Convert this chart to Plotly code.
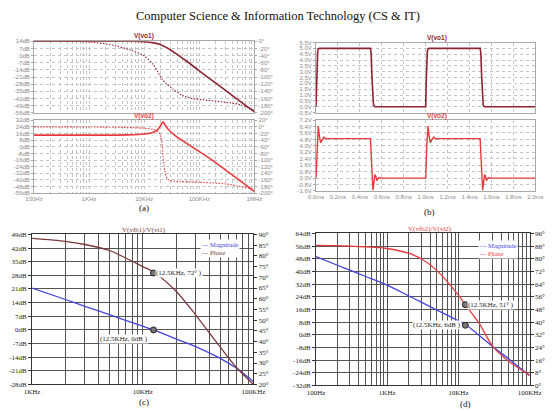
import numpy as np
import plotly.graph_objects as go

# ------------------------- DATA -------------------------
# (a) frequency responses, 100Hz..1MHz
fa_vo1_mag = [100, 1e3, 5e3, 1e4, 1.5e4, 1.9e4, 2.5e4, 3e4, 4e4, 6e4, 1e5, 2e5, 5e5, 1e6]
vo1_mag    = [14, 14, 14, 13.6, 12.4, 11, 8, 5.5, 1, -5.8, -15, -27, -43, -55]
fa_vo1_ph  = [100, 1e3, 2.9e3, 5.7e3, 1e4, 1.47e4, 1.8e4, 2.1e4, 2.5e4, 3.3e4, 4.9e4, 7.3e4, 1.45e5, 2.8e5, 5.5e5, 1e6]
vo1_ph     = [0, -2, -12, -25, -41, -66, -88, -106, -118, -133, -151, -160, -165, -170, -177, -194]
fa_vo2_mag = [100, 1e3, 5e3, 1e4, 1.47e4, 1.78e4, 2e4, 2.2e4, 2.4e4, 2.7e4, 3.7e4, 1.43e5, 1e6]
vo2_mag    = [14, 14, 14.3, 15.3, 17.5, 21, 26, 30, 26, 21.5, 13, -12.6, -54]
fa_vo2_ph  = [100, 1e3, 5e3, 1e4, 1.5e4, 1.8e4, 2e4, 2.1e4, 2.2e4, 2.35e4, 2.5e4, 2.8e4, 3.5e4, 1e5, 3e5, 1e6]
vo2_ph     = [0, -0.5, -2, -4, -8, -15, -30, -50, -90, -130, -150, -160, -164, -167, -172, -188]

# (b) transient responses, 0..2ms
t_vo1 = [0, 0.005, 0.01, 0.015, 0.02, 0.03, 0.497, 0.503, 0.51, 0.517, 0.524, 0.535, 1.0, 1.005, 1.01, 1.015, 1.02, 1.03, 1.497, 1.503, 1.51, 1.517, 1.524, 1.535, 2.0]
v_vo1 = [0, 2.2, 4.0, 4.7, 4.95, 5.0, 5.0, 4.5, 2.6, 0.8, 0.15, 0, 0, 2.2, 4.0, 4.7, 4.95, 5.0, 5.0, 4.5, 2.6, 0.8, 0.15, 0, 0]
t_vo2 = [0, 0.01, 0.021, 0.031, 0.042, 0.058, 0.073, 0.09, 0.11,
         0.496, 0.507, 0.519, 0.529, 0.537, 0.546, 0.554, 0.563, 0.572, 0.6,
         1.0, 1.01, 1.021, 1.031, 1.042, 1.058, 1.073, 1.09, 1.11,
         1.496, 1.507, 1.519, 1.529, 1.537, 1.546, 1.554, 1.563, 1.572, 1.6, 2.0]
v_vo2 = [0, 4.0, 6.45, 5.2, 4.4, 4.8, 5.1, 4.85, 4.9,
         4.9, 1.0, -1.5, -0.4, 0.45, 0.2, -0.3, -0.1, 0.05, 0,
         0, 4.0, 6.45, 5.2, 4.4, 4.8, 5.1, 4.85, 4.9,
         4.9, 1.0, -1.5, -0.4, 0.45, 0.2, -0.3, -0.1, 0.05, 0, 0]

# (c) V(vfb1)/V(vi1)
fc     = [1e3, 2e3, 3e3, 5e3, 7e3, 1e4, 1.25e4, 2e4, 3e4, 5e4, 7e4, 1e5]
mag_c  = [21.4, 15.6, 12.1, 7.8, 4.9, 1.9, 0, -4.6, -8.6, -14.6, -19.6, -26.5]
ph_c   = [88.2, 86.8, 85.3, 82.5, 79, 75, 72.5, 63.5, 52.5, 37.5, 28, 20]
# (d) V(vfb2)/V(vi2)
fd     = [100, 200, 300, 500, 1e3, 2e3, 3e3, 5e3, 1e4, 1.25e4, 2e4, 3e4, 5e4, 1e5]
mag_d  = [49.3, 43.9, 40.8, 36.8, 31.4, 24.6, 20.6, 15.6, 8.8, 6.6, -0.8, -7.3, -15, -25.9]
ph_d   = [88.5, 88.3, 88, 87.6, 86.5, 83.5, 80, 72.5, 57, 51, 38.5, 25, 15.5, 6.5]

# marker points
mark_c = dict(f=12500, mag=0, ph=72)
mark_d = dict(f=12500, mag=6, ph=51)

# tick labels
a_top_left  = list(range(14, -57, -7))
a_top_right = list(range(0, -201, -20))
a_bot_left  = list(range(32, -57, -8))
a_bot_right = list(range(20, -201, -20))
a_x_major   = [100, 1e3, 1e4, 1e5, 1e6]
a_x_labels  = ["100Hz", "1KHz", "10KHz", "100KHz", "1MHz"]
b_top_left  = [round(-0.5 + 0.5 * i, 1) for i in range(13)]
b_bot_left  = [round(-1.6 + 0.8 * i, 1) for i in range(12)]
b_x         = [round(0.2 * i, 1) for i in range(11)]
c_left      = list(range(-28, 50, 7))
c_right     = list(range(20, 91, 5))
d_left      = list(range(-32, 65, 8))
d_right     = list(range(0, 97, 8))

# ------------------------- FIGURE -------------------------
W, H = 558, 411
def xd(l, r): return [l / W, r / W]
def yd(t, b): return [1 - b / H, 1 - t / H]

def logticks(lo, hi):
    vals = []
    for e in range(lo, hi):
        for m in range(1, 10):
            vals.append(m * 10 ** e)
    vals.append(10 ** hi)
    return vals

DR = '#8e2430'
RD = '#e83a3e'
BL = '#4545e0'
BR = '#7d3a3c'
GRID_LT = '#c4c4c4'
LTF = dict(family='Liberation Sans, Arial', size=6, color='#8a8a8a')
SRF = dict(family='Liberation Serif, Times New Roman', size=7, color='#222')
DOT = '1.5px,1.5px'

fig = go.Figure()
def line(x, y, xa, ya, color, dash='solid', width=1.5, shape='spline'):
    fig.add_trace(go.Scatter(x=x, y=y, xaxis=xa, yaxis=ya, mode='lines', showlegend=False,
                             line=dict(color=color, dash=dash, width=width, shape=shape, smoothing=0.8),
                             hoverinfo='skip'))

line(fa_vo1_mag, vo1_mag, 'x', 'y', DR, width=1.6)
line(fa_vo1_ph, vo1_ph, 'x', 'y2', DR, dash=DOT, width=1.1)
line(fa_vo2_mag, vo2_mag, 'x2', 'y3', RD, width=1.6)
line(fa_vo2_ph, vo2_ph, 'x2', 'y4', RD, dash=DOT, width=1.1)
line(t_vo1, v_vo1, 'x3', 'y5', DR, width=1.6, shape='linear')
line(t_vo2, v_vo2, 'x4', 'y6', RD, width=1.4, shape='linear')
line(fc, mag_c, 'x5', 'y7', BL, width=1.3)
line(fc, ph_c, 'x5', 'y8', BR, width=1.3)
line(fd, mag_d, 'x6', 'y9', BL, width=1.3)
line(fd, ph_d, 'x6', 'y10', RD, width=1.3)

mk = dict(size=6, color='#777', line=dict(color='#222', width=1))
fig.add_trace(go.Scatter(x=[mark_c['f']], y=[mark_c['mag']], xaxis='x5', yaxis='y7', mode='markers', marker=mk, showlegend=False))
fig.add_trace(go.Scatter(x=[mark_c['f']], y=[mark_c['ph']], xaxis='x5', yaxis='y8', mode='markers', marker=mk, showlegend=False))
fig.add_trace(go.Scatter(x=[mark_d['f']], y=[mark_d['mag']], xaxis='x6', yaxis='y9', mode='markers', marker=mk, showlegend=False))
fig.add_trace(go.Scatter(x=[mark_d['f']], y=[mark_d['ph']], xaxis='x6', yaxis='y10', mode='markers', marker=mk, showlegend=False))

def lt_x(dom, anchor, typ, rng, tv, tt, labels=True):
    return dict(domain=dom, anchor=anchor, type=typ, range=rng, tickvals=tv, ticktext=tt,
                showticklabels=labels, showgrid=True, gridcolor=GRID_LT, griddash='dot', gridwidth=1,
                showline=True, mirror=True, linecolor='#a8a8a8', linewidth=1, ticks='',
                tickfont=LTF, zeroline=False, fixedrange=True)

def lt_y(dom, anchor, rng, tv, tt):
    return dict(domain=dom, anchor=anchor, range=rng, tickvals=tv, ticktext=tt,
                showgrid=True, gridcolor=GRID_LT, griddash='dot', gridwidth=1,
                showline=True, mirror=True, linecolor='#a8a8a8', linewidth=1,
                ticks='outside', ticklen=2, tickcolor='#a8a8a8', tickfont=LTF, zeroline=False)

def lt_yr(over, anchor, rng, tv, tt):
    return dict(overlaying=over, side='right', anchor=anchor, range=rng, tickvals=tv, ticktext=tt,
                showgrid=False, showline=False, ticks='outside', ticklen=2, tickcolor='#a8a8a8',
                tickfont=LTF, zeroline=False)

def sr_x(dom, anchor, rng, tv, tt):
    return dict(domain=dom, anchor=anchor, type='log', range=rng, tickvals=tv, ticktext=tt,
                showgrid=True, gridcolor='#555', gridwidth=1.4, showline=True, mirror=True,
                linecolor='#333', linewidth=1, ticks='', tickfont=SRF, zeroline=False)

def sr_y(dom, anchor, rng, tv, tt):
    return dict(domain=dom, anchor=anchor, range=rng, tickvals=tv, ticktext=tt,
                showgrid=True, gridcolor='#555', gridwidth=1.4, showline=True, mirror=True,
                linecolor='#333', linewidth=1, ticks='outside', ticklen=3, tickcolor='#333',
                tickfont=SRF, zeroline=False)

def sr_yr(over, anchor, rng, tv, tt):
    return dict(overlaying=over, side='right', anchor=anchor, range=rng, tickvals=tv, ticktext=tt,
                showgrid=False, showline=False, ticks='outside', ticklen=3, tickcolor='#333',
                tickfont=SRF, zeroline=False)

a_tv = logticks(2, 6)
a_tt = [a_x_labels[a_x_major.index(v)] if v in a_x_major else '' for v in a_tv]
c_tv = logticks(3, 5)
c_tt = ['1KHz' if v == 1e3 else '10KHz' if v == 1e4 else '100KHz' if v == 1e5 else '' for v in c_tv]
d_tv = logticks(2, 5)
d_tt = ['100Hz' if v == 100 else '1KHz' if v == 1e3 else '10KHz' if v == 1e4 else '100KHz' if v == 1e5 else '' for v in d_tv]

A_X = xd(26, 255)
B_X = xd(319, 547)
layout = dict(
    width=W, height=H, margin=dict(l=0, r=0, t=0, b=0),
    paper_bgcolor='white', plot_bgcolor='white', showlegend=False,
    xaxis=lt_x(A_X, 'y', 'log', [2, 6], a_tv, a_tt, labels=False),
    yaxis=lt_y(yd(38, 111), 'x', [-56, 14], a_top_left, [f'{v}dB' for v in a_top_left]),
    yaxis2=lt_yr('y', 'x', [-200, 0], a_top_right, [f'{v}°' for v in a_top_right]),
    xaxis2=lt_x(A_X, 'y3', 'log', [2, 6], a_tv, a_tt),
    yaxis3=lt_y(yd(118.5, 193), 'x2', [-56, 32], a_bot_left, [f'{v}dB' for v in a_bot_left]),
    yaxis4=lt_yr('y3', 'x2', [-200, 20], a_bot_right, [f'{v}°' for v in a_bot_right]),
    xaxis3=lt_x(B_X, 'y5', 'linear', [0, 2], b_x, [f'{v:.1f}ms' for v in b_x], labels=False),
    yaxis5=lt_y(yd(39.3, 110.7), 'x3', [-0.5, 5.5], b_top_left, [f'{v:.1f}V' for v in b_top_left]),
    xaxis4=lt_x(B_X, 'y6', 'linear', [0, 2], b_x, [f'{v:.1f}ms' for v in b_x]),
    yaxis6=lt_y(yd(118.4, 190.7), 'x4', [-1.6, 7.2], b_bot_left, [f'{v:.1f}V' for v in b_bot_left]),
    xaxis5=sr_x(xd(24, 254), 'y7', [3, 5], c_tv, c_tt),
    yaxis7=sr_y(yd(235, 388), 'x5', [-28, 49], c_left, [f'{v}dB' for v in c_left]),
    yaxis8=sr_yr('y7', 'x5', [20, 90], c_right, [f'{v}°' for v in c_right]),
    xaxis6=sr_x(xd(319, 541), 'y9', [2, 5], d_tv, d_tt),
    yaxis9=sr_y(yd(234, 389), 'x6', [-32, 64], d_left, [f'{v}dB' for v in d_left]),
    yaxis10=sr_yr('y9', 'x6', [0, 96], d_right, [f'{v}°' for v in d_right]),
)
fig.update_layout(**layout)

SER = 'Liberation Serif, Times New Roman'
def ann(text, x, y, size, color='#111', family=SER, **kw):
    kw.setdefault('xanchor', 'center')
    kw.setdefault('yanchor', 'middle')
    fig.add_annotation(text=text, x=x / W, y=1 - y / H, xref='paper', yref='paper', showarrow=False,
                       font=dict(family=family, size=size, color=color), **kw)

ann('Computer Science &amp; Information Technology (CS &amp; IT)', 279, 12, 12.5)
ann('(a)', 140, 208, 9)
ann('(b)', 437, 212, 9)
ann('(c)', 140, 406, 9)
ann('(d)', 474, 408, 9)
LTB = 'Liberation Sans, Arial'
ann('<b>V(vo1)</b>', 140, 33, 6.5, DR, LTB)
ann('<b>V(vo2)</b>', 140, 114, 6.5, RD, LTB)
ann('<b>V(vo1)</b>', 445, 34.5, 6.5, DR, LTB)
ann('<b>V(vo2)</b>', 445, 114, 6.5, RD, LTB)
ann('V(vfb1)/V(vi1)', 140, 230.5, 7, BR)
ann('V(vfb2)/V(vi2)', 437, 229, 7, RD)

# legends
ann(f'<span style="color:{BL}">--- Magnitude</span><br><span style="color:{BR}">--- Phase</span>',
    219, 249.5, 6.5, align='left', bgcolor='white', borderpad=1)
ann(f'<span style="color:{BL}">--- Magnitude</span><br><span style="color:{RD}">--- Phase</span>',
    508, 250, 6.5, align='left', bgcolor='white', borderpad=1)

# data-point labels
lf = np.log10(mark_c['f'])
fig.add_annotation(text='(12.5KHz, 72° )', x=lf, y=mark_c['ph'], xref='x5', yref='y8', showarrow=False,
                   xanchor='left', yanchor='middle', xshift=2, font=dict(family=SER, size=7, color='#222'),
                   bgcolor='white', borderpad=0)
fig.add_annotation(text='(12.5KHz, 0dB )', x=lf, y=mark_c['mag'], xref='x5', yref='y7', showarrow=False,
                   xanchor='right', yanchor='top', xshift=-4, yshift=-4, font=dict(family=SER, size=7, color='#222'),
                   bgcolor='white', borderpad=0)
lf = np.log10(mark_d['f'])
fig.add_annotation(text='(12.5KHz, 51° )', x=lf, y=mark_d['ph'], xref='x6', yref='y10', showarrow=False,
                   xanchor='left', yanchor='middle', xshift=2, font=dict(family=SER, size=7, color='#222'),
                   bgcolor='white', borderpad=0)
fig.add_annotation(text='(12.5KHz, 6dB )', x=lf, y=mark_d['mag'], xref='x6', yref='y9', showarrow=False,
                   xanchor='right', yanchor='middle', xshift=-3, font=dict(family=SER, size=7, color='#222'),
                   bgcolor='white', borderpad=0)

fig.write_html('out.html')
